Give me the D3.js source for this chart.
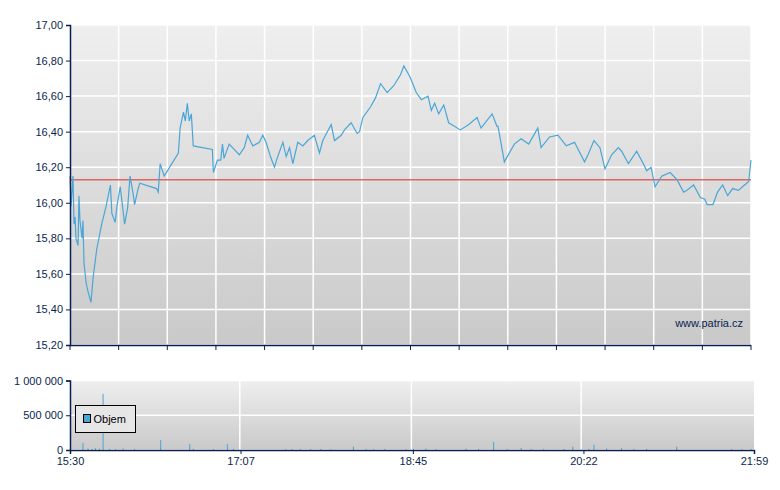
<!DOCTYPE html>
<html><head><meta charset="utf-8">
<script src="https://cdn.jsdelivr.net/npm/d3@7"></script>
<style>body{margin:0;background:#fff}svg{font-family:"Liberation Sans",Arial,sans-serif}</style>
</head><body>
<script>
// minutes after 15:30 (session 15:30 - 21:59 = 389 min)
const priceX = [0,0.6,1.7,2.3,2.9,3.4,4.6,5.1,5.7,6.9,7.4,8,9.2,10.3,12,13.2,15.3,18.1,20.6,23.1,23.9,25.8,26.8,28.7,31.2,32.9,34.3,35.9,36.9,38.9,39.9,49.4,50.4,51.5,53.8,61.9,62.9,64.8,65.9,67,68.1,69.3,70.4,81.3,81.9,84.2,86.1,87.1,88,90.9,93.8,96.7,99.5,101.5,104.4,108.2,110.1,112,114.5,116.8,118.3,121.6,123.5,125.4,127.3,130.1,133,135.8,139.6,142.5,144.4,149.2,151.1,154.9,156.8,160.6,164,165.4,167.3,171.7,174.5,177.4,181.2,185,188.8,190.7,194.1,197.8,200.7,204.5,206.4,208.3,210.6,213.5,216.3,223,227.8,232.5,234.8,241.1,243.9,244.5,248.1,253.8,257.7,262,267.2,269.1,273.9,278.7,283.5,288.2,293.9,295.9,299.3,302.7,305.6,309.4,313.2,315.1,319,323.7,327.5,329.4,331.9,334.2,338,342.8,346.7,350.5,352.4,356.2,360.1,362.6,363.9,367.3,369.9,372.8,375.7,378.5,381.8,385.3,387.7,389];
const priceY = [16.15,15.98,16.15,15.88,15.92,15.8,15.76,16.04,15.9,15.8,15.9,15.66,15.55,15.5,15.44,15.58,15.74,15.88,15.98,16.1,15.94,15.89,15.98,16.09,15.88,15.97,16.15,16.06,15.99,16.08,16.11,16.08,16.06,16.22,16.15,16.28,16.42,16.51,16.46,16.56,16.46,16.5,16.32,16.3,16.17,16.24,16.24,16.33,16.25,16.33,16.3,16.27,16.31,16.38,16.32,16.34,16.38,16.34,16.26,16.2,16.25,16.34,16.26,16.31,16.22,16.34,16.32,16.35,16.38,16.28,16.35,16.44,16.35,16.38,16.41,16.45,16.39,16.4,16.48,16.54,16.59,16.67,16.62,16.66,16.72,16.77,16.71,16.62,16.58,16.6,16.52,16.56,16.5,16.55,16.45,16.41,16.44,16.48,16.42,16.5,16.43,16.43,16.23,16.33,16.36,16.33,16.42,16.31,16.37,16.38,16.32,16.34,16.23,16.27,16.35,16.31,16.19,16.27,16.31,16.29,16.22,16.29,16.22,16.18,16.2,16.09,16.15,16.17,16.13,16.06,16.07,16.1,16.03,16.02,15.99,15.99,16.06,16.1,16.04,16.08,16.07,16.1,16.12,16.24,16.2,16.16,16.08,16.12];
const refPrice = 16.13;

const volX = [7.4,10.3,12.6,14.6,16.9,18.9,22.6,26,30.3,36.9,51.8,68.4,70.4,81.9,89.9,93.3,123.2,126.9,131.7,137.5,143.3,149,161.9,169,173.3,179.9,191.9,196.2,203.3,209.1,226.3,233.4,242,249.7,257.7,263.4,270.6,282.1,287.2,296.4,299.3,306.5,315.1,322.2,329.4,346.6,378,383.7,389];
const volY = [106000,20000,15000,25000,18000,808000,12000,10000,22000,12000,144000,87000,15000,12000,87000,15000,10000,12000,10000,12000,15000,10000,48000,12000,10000,12000,10000,15000,20000,10000,18000,15000,120000,12000,30000,12000,10000,15000,48000,12000,77000,20000,25000,12000,15000,48000,12000,10000,15000];

const xTicks = [0,97,195,292,389];
const xTickLabels = ['15:30','17:07','18:45','20:22','21:59'];
const yTicks = [15.2,15.4,15.6,15.8,16.0,16.2,16.4,16.6,16.8,17.0];
const volTicks = [0,500000,1000000];

const W = 780, H = 490;
const L = 70, R = 751;
const svg = d3.select('body').append('svg').attr('width', W).attr('height', H);
const defs = svg.append('defs');
const grad = defs.append('linearGradient').attr('id', 'bg').attr('x1', 0).attr('x2', 0).attr('y1', 0).attr('y2', 1);
grad.append('stop').attr('offset', '0%').attr('stop-color', '#efefef');
grad.append('stop').attr('offset', '100%').attr('stop-color', '#c9c9c9');

const axisColor = '#0a1f4f';
const x = d3.scaleLinear().domain([0, 389]).range([L, R]);
const y = d3.scaleLinear().domain([15.2, 17]).range([345, 25]);
const yv = d3.scaleLinear().domain([0, 1000000]).range([450, 380.5]);

// main panel
svg.append('rect').attr('x', L).attr('y', 25).attr('width', R - L).attr('height', 320).attr('fill', 'url(#bg)');
const vLines = d3.range(0, 15).map(i => L + i * (R - L) / 14);
svg.append('g').selectAll('line').data(vLines).join('line')
  .attr('x1', d => d).attr('x2', d => d).attr('y1', 25).attr('y2', 345)
  .attr('stroke', '#fff').attr('stroke-width', 1.5);
svg.append('g').selectAll('line').data(yTicks).join('line')
  .attr('x1', L).attr('x2', R).attr('y1', d => y(d)).attr('y2', d => y(d))
  .attr('stroke', '#fff').attr('stroke-width', 1.5);

svg.append('line').attr('x1', L).attr('x2', R).attr('y1', y(refPrice)).attr('y2', y(refPrice))
  .attr('stroke', '#d9534f').attr('stroke-width', 1.5).attr('opacity', 0.85);

svg.append('path').datum(priceX.map((d, i) => [d, priceY[i]]))
  .attr('fill', 'none').attr('stroke', '#4aa6d6').attr('stroke-width', 1.2)
  .attr('d', d3.line().x(d => x(d[0])).y(d => y(d[1])));

const ay = svg.append('g').attr('transform', `translate(${L},0)`)
  .call(d3.axisLeft(y).tickValues(yTicks).tickSize(4).tickFormat(d => d3.format('.2f')(d).replace('.', ',')));
ay.selectAll('text').attr('font-size', 11).attr('fill', axisColor).attr('font-family', 'Liberation Sans');
ay.selectAll('line,path').attr('stroke', axisColor);
ay.select('path').attr('stroke-width', 1.5);

svg.append('line').attr('x1', L).attr('x2', R).attr('y1', 345.5).attr('y2', 345.5).attr('stroke', axisColor).attr('stroke-width', 1.5);
svg.append('g').selectAll('line').data(vLines).join('line')
  .attr('x1', d => d).attr('x2', d => d).attr('y1', 345).attr('y2', 350).attr('stroke', axisColor);

svg.append('text').attr('x', 743).attr('y', 327).attr('text-anchor', 'end')
  .attr('font-size', 11).attr('fill', axisColor).text('www.patria.cz');

// volume panel
svg.append('rect').attr('x', L).attr('y', 380.5).attr('width', R - L + 3).attr('height', 69.5).attr('fill', 'url(#bg)');
svg.append('g').selectAll('line').data(xTicks.slice(1, 4)).join('line')
  .attr('x1', d => x(d)).attr('x2', d => x(d)).attr('y1', 380).attr('y2', 450)
  .attr('stroke', '#fff').attr('stroke-width', 1.5);
svg.append('g').selectAll('line').data(volTicks).join('line')
  .attr('x1', L).attr('x2', R + 3).attr('y1', d => yv(d)).attr('y2', d => yv(d))
  .attr('stroke', '#fff').attr('stroke-width', 1.5);

svg.append('g').selectAll('line').data(volX.map((d, i) => [d, volY[i]])).join('line')
  .attr('x1', d => x(d[0])).attr('x2', d => x(d[0])).attr('y1', 450).attr('y2', d => yv(d[1]))
  .attr('stroke', '#4aa6d6').attr('stroke-width', 1);

const av = svg.append('g').attr('transform', `translate(${L},0)`)
  .call(d3.axisLeft(yv).tickValues(volTicks).tickSize(4).tickFormat(d => d3.format(',')(d).replace(/,/g, ' ')));
av.selectAll('text').attr('font-size', 11).attr('fill', axisColor);
av.selectAll('line,path').attr('stroke', axisColor);
av.select('path').attr('stroke-width', 1.5);

const xv = d3.scaleLinear().domain([0, 389]).range([L, R + 3]);
const ax = svg.append('g').attr('transform', 'translate(0,450)')
  .call(d3.axisBottom(xv).tickValues(xTicks).tickSize(4).tickFormat((d, i) => xTickLabels[i]));
ax.selectAll('text').attr('font-size', 11).attr('fill', axisColor);
ax.selectAll('line,path').attr('stroke', axisColor);
ax.select('path').attr('stroke-width', 1.5);

// legend
const lg = svg.append('g').attr('transform', 'translate(75.5,405.5)');
lg.append('rect').attr('width', 60).attr('height', 27).attr('fill', '#e6e6e6').attr('stroke', '#000');
lg.append('rect').attr('x', 8).attr('y', 9).attr('width', 7).attr('height', 8).attr('fill', '#4aa6d6').attr('stroke', '#000');
lg.append('text').attr('x', 18).attr('y', 17.5).attr('font-size', 11).attr('fill', '#000').text('Objem');
</script>
</body></html>
